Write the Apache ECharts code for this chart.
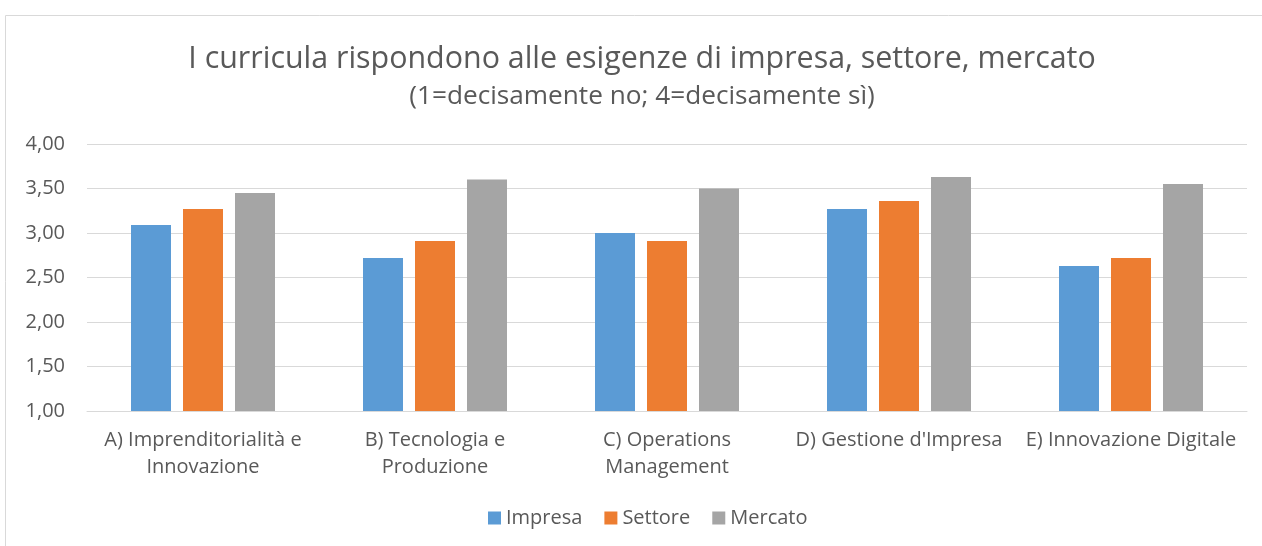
<!DOCTYPE html>
<html>
<head>
<meta charset="utf-8">
<script src="https://cdn.jsdelivr.net/npm/echarts@6/dist/echarts.min.js"></script>
<style>
html,body{margin:0;padding:0;background:#fff;}
#c{width:1262px;height:546px;}
</style>
</head>
<body>
<div id="c"></div>
<script>
const categories = ["A) Imprenditorialità e\nInnovazione", "B) Tecnologia e\nProduzione", "C) Operations\nManagement", "D) Gestione d'Impresa", "E) Innovazione Digitale"];
const impresa = [3.09, 2.72, 3.00, 3.27, 2.63];
const settore = [3.27, 2.91, 2.91, 3.36, 2.72];
const mercato = [3.45, 3.60, 3.50, 3.63, 3.55];
const seriesNames = ["Impresa", "Settore", "Mercato"];
const titleText = "I curricula rispondono alle esigenze di impresa, settore, mercato";
const subtitleText = "(1=decisamente no; 4=decisamente sì)";

const FONT = "'Open Sans', 'Noto Sans', sans-serif";
const chart = echarts.init(document.getElementById('c'), null, {renderer: 'canvas'});
const barStyle = {barWidth: 40, barGap: '30%'};
chart.setOption({
  animation: false,
  color: ['#5B9BD5', '#ED7D31', '#A5A5A5'],
  textStyle: {fontFamily: FONT},
  graphic: [{
    type: 'rect', left: 3, top: 13, silent: true,
    shape: {x: 0, y: 0, width: 1300, height: 600},
    style: {fill: 'none', stroke: '#d9d9d9', lineWidth: 1}
  }],
  title: {
    text: titleText,
    subtext: subtitleText,
    left: 642, textAlign: 'center', top: 41, itemGap: 5, padding: 0,
    textStyle: {fontFamily: FONT, fontSize: 30.4, lineHeight: 36, fontWeight: 'normal', color: '#595959'},
    subtextStyle: {fontFamily: FONT, fontSize: 26.2, lineHeight: 30, color: '#595959'}
  },
  legend: {
    data: seriesNames,
    top: 508, left: 488, padding: 0,
    itemWidth: 13, itemHeight: 13, itemGap: 22,
    icon: 'rect',
    textStyle: {fontFamily: FONT, fontSize: 20, lineHeight: 20, color: '#595959'}
  },
  grid: {left: 87, right: 15, top: 144, bottom: 135, containLabel: false},
  xAxis: {
    type: 'category', data: categories,
    axisLine: {lineStyle: {color: '#d9d9d9', width: 1}},
    axisTick: {show: false},
    axisLabel: {fontFamily: FONT, fontSize: 20, color: '#595959', margin: 16, lineHeight: 27, interval: 0}
  },
  yAxis: {
    type: 'value', min: 1, max: 4, interval: 0.5,
    axisLine: {show: false}, axisTick: {show: false},
    splitLine: {lineStyle: {color: '#d9d9d9', width: 1}},
    axisLabel: {fontFamily: FONT, fontSize: 20, color: '#595959', margin: 22,
      formatter: v => v.toFixed(2).replace('.', ',')}
  },
  series: [
    Object.assign({type: 'bar', name: seriesNames[0], data: impresa}, barStyle),
    Object.assign({type: 'bar', name: seriesNames[1], data: settore}, barStyle),
    Object.assign({type: 'bar', name: seriesNames[2], data: mercato}, barStyle)
  ]
});
</script>
</body>
</html>
